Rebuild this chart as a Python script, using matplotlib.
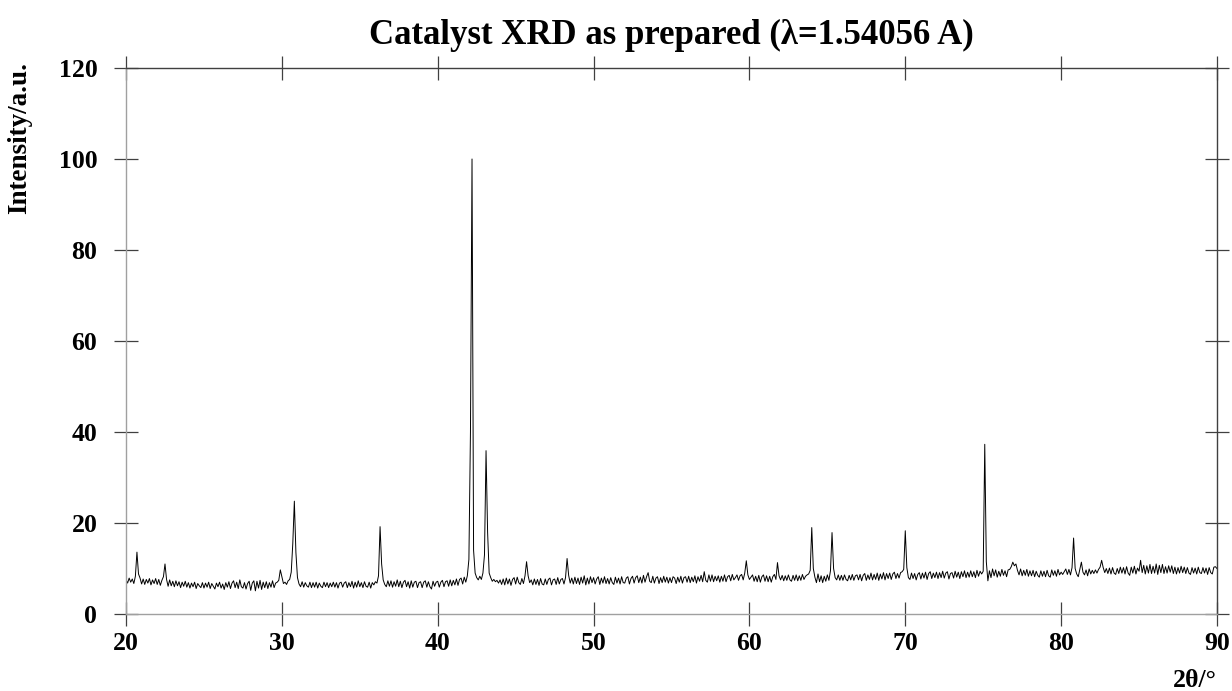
import numpy as np
import matplotlib
matplotlib.use("Agg")
import matplotlib.pyplot as plt

# scan range and step of the diffractometer
start_angle = 20.0
step = 0.1

# counts per 0.1 deg step, one row per degree (20.0 ... 89.9, then 90.0)
intensity = [
    7.6, 6.8, 7.9, 7.0, 7.7, 6.7, 8.3, 13.6, 8.8, 7.9,
    6.6, 7.7, 6.5, 7.6, 6.8, 7.8, 6.4, 7.5, 6.7, 7.8,
    6.5, 7.6, 6.3, 7.4, 8.2, 11.0, 7.6, 6.1, 7.5, 6.2,
    7.2, 6.0, 7.3, 6.2, 7.1, 5.8, 7.0, 6.1, 7.2, 5.9,
    6.9, 5.7, 6.8, 6.0, 7.0, 5.6, 6.7, 6.2, 5.8, 6.9,
    5.7, 6.8, 5.9, 7.0, 5.6, 6.7, 6.1, 5.5, 6.8, 6.0,
    7.0, 5.7, 6.6, 5.4, 6.9, 5.9, 7.1, 5.6, 6.8, 7.3,
    5.8, 7.0, 5.6, 7.5, 6.0, 5.7, 6.9, 5.5, 6.7, 7.2,
    5.2, 6.8, 7.3, 5.1, 7.2, 5.7, 7.4, 5.4, 7.0, 5.8,
    7.1, 5.6, 6.9, 5.9, 7.3, 5.8, 6.8, 7.0, 7.4, 9.7,
    8.2, 6.7, 7.0, 6.5, 7.3, 7.6, 9.2, 15.5, 24.8, 13.5,
    8.0, 6.6, 6.0, 7.1, 5.9, 6.9, 6.2, 5.9, 7.0, 5.8,
    6.9, 5.9, 7.0, 5.7, 6.8, 6.1, 5.8, 7.0, 6.0, 6.9,
    5.8, 6.8, 6.0, 7.0, 5.9, 6.9, 5.7, 6.8, 7.0, 5.9,
    6.8, 7.1, 5.8, 6.9, 6.0, 7.2, 5.7, 7.0, 5.9, 7.3,
    6.0, 6.9, 5.8, 7.1, 6.1, 5.9, 7.0, 5.7, 6.9, 6.4,
    7.1, 6.8, 8.4, 19.2, 11.0, 7.5, 6.5, 6.0, 7.3, 6.1,
    7.3, 5.9, 7.1, 6.1, 7.5, 6.0, 7.2, 5.8, 7.0, 7.4,
    6.0, 7.1, 5.7, 7.3, 5.9, 7.0, 7.2, 5.8, 6.9, 7.1,
    5.8, 7.0, 7.3, 5.9, 7.1, 6.0, 5.5, 7.2, 6.1, 7.0,
    7.2, 5.9, 7.0, 7.4, 6.0, 7.1, 7.3, 6.1, 7.5, 6.2,
    7.4, 6.4, 7.7, 6.3, 7.6, 7.9, 6.6, 8.1, 7.0, 8.4,
    12.0, 40.0, 100.0, 14.0, 9.0, 8.0, 7.5, 8.3, 7.6, 9.0,
    13.0, 35.9, 18.0, 9.0, 8.0, 7.2, 7.6, 7.1, 7.4, 6.8,
    7.5, 6.5, 7.7, 6.4, 7.9, 6.6, 7.7, 6.3, 7.6, 8.0,
    6.6, 8.1, 6.9, 6.5, 7.8, 6.7, 8.4, 11.5, 8.4, 6.9,
    7.5, 6.4, 7.7, 6.5, 7.6, 6.3, 7.8, 6.6, 6.4, 7.7,
    6.5, 7.6, 7.9, 6.4, 7.5, 7.7, 6.5, 8.0, 6.6, 7.6,
    7.8, 6.6, 8.0, 12.2, 8.5, 6.8, 7.9, 6.6, 8.1, 6.7,
    7.9, 6.5, 8.1, 6.8, 8.4, 6.4, 7.9, 6.6, 8.2, 6.9,
    8.0, 6.6, 7.7, 8.2, 6.5, 7.9, 6.8, 8.2, 6.7, 7.8,
    6.6, 8.0, 6.9, 6.5, 8.1, 6.8, 7.9, 6.6, 8.2, 6.9,
    6.8, 7.9, 8.2, 6.6, 7.8, 8.3, 6.8, 8.0, 8.4, 6.9,
    8.1, 6.8, 8.5, 7.0, 8.2, 9.1, 7.2, 6.9, 8.3, 6.8,
    7.9, 8.2, 6.7, 8.0, 6.9, 8.3, 7.0, 8.1, 6.8, 8.0,
    6.9, 8.2, 7.9, 6.7, 8.1, 7.0, 8.3, 6.8, 8.0, 8.2,
    7.0, 8.3, 6.9, 8.1, 7.1, 8.4, 6.8, 8.2, 7.2, 8.5,
    7.1, 9.3, 7.4, 7.0, 8.6, 7.2, 8.6, 7.1, 8.3, 7.3,
    8.4, 7.0, 8.3, 7.2, 8.6, 7.1, 8.2, 8.5, 7.3, 8.7,
    7.5, 8.0, 8.6, 7.4, 8.4, 8.7, 7.5, 9.0, 11.7, 8.6,
    7.6, 8.1, 8.6, 7.2, 8.3, 7.1, 8.5, 7.0, 8.2, 8.6,
    7.2, 8.4, 7.1, 8.3, 7.0, 8.2, 8.7, 7.6, 11.3, 8.4,
    7.5, 8.5, 7.3, 8.4, 7.4, 8.6, 7.5, 7.2, 8.5, 7.4,
    8.6, 7.3, 8.4, 7.4, 8.7, 7.6, 8.3, 8.6, 8.8, 9.6,
    19.0, 10.0, 8.1, 6.9, 8.8, 7.1, 8.4, 6.9, 8.3, 7.2,
    8.6, 7.4, 9.5, 17.9, 10.0, 8.0, 7.5, 8.6, 7.4, 8.5,
    7.4, 8.6, 7.6, 7.3, 8.5, 7.5, 8.7, 7.4, 8.4, 8.6,
    7.5, 8.7, 7.3, 8.5, 8.9, 7.4, 8.6, 7.6, 9.0, 7.5,
    8.7, 7.6, 9.0, 7.4, 8.8, 7.7, 9.1, 7.5, 8.9, 7.8,
    9.0, 7.6, 8.8, 9.2, 7.8, 8.9, 7.9, 9.1, 9.3, 9.8,
    18.3, 10.2, 8.0, 7.6, 9.0, 7.8, 8.9, 7.5, 8.7, 9.1,
    7.7, 9.0, 7.9, 9.2, 7.6, 8.9, 9.3, 7.8, 9.0, 8.0,
    9.2, 7.8, 9.1, 8.0, 9.4, 7.9, 9.0, 9.3, 7.7, 8.9,
    9.1, 7.9, 9.4, 8.1, 9.2, 7.8, 9.3, 8.2, 9.5, 8.0,
    9.2, 8.1, 9.5, 8.2, 9.3, 8.0, 9.6, 8.3, 9.4, 8.8,
    9.4, 37.3, 11.5, 7.3, 9.5, 8.0, 9.9, 8.4, 9.7, 8.1,
    9.4, 8.3, 9.8, 8.5, 9.5, 8.2, 9.7, 9.8, 10.4, 11.4,
    10.6, 11.0, 9.6, 8.6, 9.9, 8.4, 9.6, 8.5, 9.8, 8.3,
    9.5, 8.4, 9.6, 8.2, 9.4, 8.5, 8.1, 9.5, 8.3, 9.4,
    8.2, 9.6, 8.4, 8.1, 9.7, 8.5, 9.5, 8.3, 9.8, 8.6,
    9.2, 8.7, 9.3, 9.9, 8.7, 9.8, 8.6, 10.2, 16.7, 10.0,
    8.8, 8.2, 9.8, 11.4, 9.2, 8.6, 9.7, 8.4, 9.9, 8.8,
    9.6, 8.9, 9.7, 9.0, 9.8, 10.3, 11.8, 10.2, 9.1, 10.0,
    8.9, 10.1, 8.8, 10.2, 9.0, 8.7, 10.0, 8.9, 10.3, 9.0,
    10.2, 8.8, 10.4, 9.0, 8.5, 10.3, 9.0, 10.5, 8.8, 10.1,
    9.4, 11.8, 9.1, 10.7, 8.8, 10.6, 9.0, 10.9, 8.9, 10.5,
    9.0, 11.0, 8.7, 10.7, 9.1, 10.9, 8.9, 10.4, 9.0, 10.6,
    9.2, 10.6, 8.9, 10.3, 8.8, 10.2, 9.0, 10.5, 9.1, 10.3,
    8.9, 10.2, 9.0, 8.7, 10.2, 9.0, 10.1, 8.8, 10.3, 9.1,
    8.9, 10.2, 9.0, 10.1, 8.7, 10.2, 9.1, 8.8, 10.3, 10.4,
    10.0,
]

x_ticks = [20, 30, 40, 50, 60, 70, 80, 90]
y_ticks = [0, 20, 40, 60, 80, 100, 120]

title = "Catalyst XRD as prepared (\u03bb=1.54056 A)"
x_label = "2\u03b8/\u00b0"
y_label = "Intensity/a.u."

two_theta = start_angle + step * np.arange(len(intensity))

plt.rcParams["font.family"] = ["Liberation Serif", "DejaVu Serif"]
plt.rcParams["font.weight"] = "bold"

fig = plt.figure(figsize=(12.32, 6.91), dpi=100)
ax = fig.add_axes([0.1023, 0.1114, 0.8855, 0.7902])

ax.plot(two_theta, intensity, color="black", lw=0.7)

ax.set_xlim(x_ticks[0], x_ticks[-1])
ax.set_ylim(y_ticks[0], y_ticks[-1])
ax.set_xticks(x_ticks)
ax.set_yticks(y_ticks)

ax.tick_params(axis="both", which="major", direction="inout", length=17.3,
               width=0.9, color="#404040", labelsize=18.5,
               top=True, right=True, labeltop=False, labelright=False)
ax.tick_params(axis="x", pad=4)
ax.tick_params(axis="y", pad=12)
for lab in ax.get_xticklabels() + ax.get_yticklabels():
    lab.set_fontweight("bold")

ax.spines["left"].set_color("#a0a0a0")
ax.spines["bottom"].set_color("#a0a0a0")
ax.spines["top"].set_color("#404040")
ax.spines["right"].set_color("#404040")
for s in ax.spines.values():
    s.set_linewidth(1.0)

fig.text(0.5446, 0.936, title, ha="center", va="baseline",
         fontsize=25, fontweight="bold")
fig.text(0.0162, 0.910, y_label, rotation=90, ha="center", va="top",
         fontsize=19.5, fontweight="bold")
fig.text(0.9878, 0.006, x_label, ha="right", va="baseline",
         fontsize=18.5, fontweight="bold")

fig.savefig("out.png", dpi=100)
